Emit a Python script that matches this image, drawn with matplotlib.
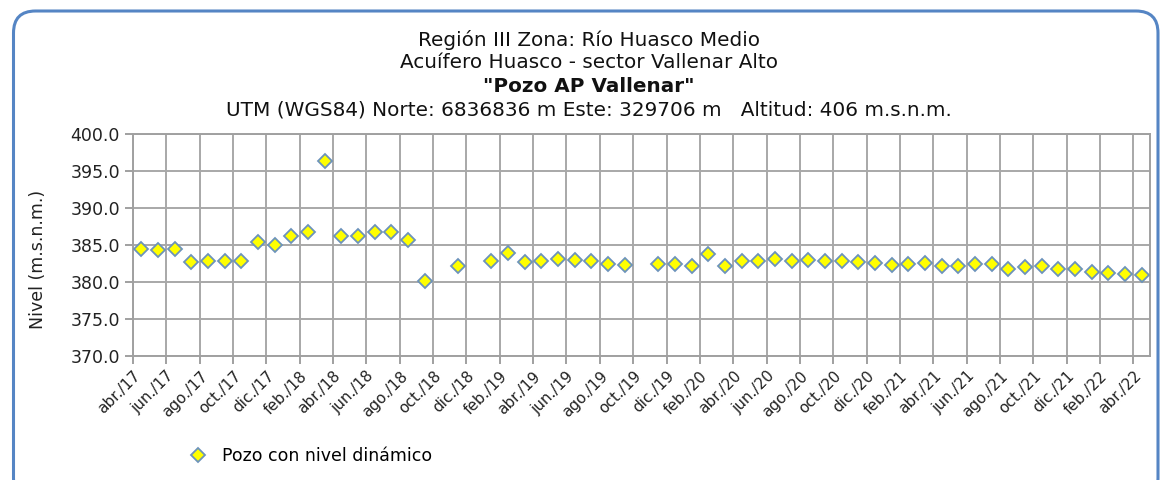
import numpy as np
import matplotlib
matplotlib.use("Agg")
import matplotlib.pyplot as plt
from matplotlib.patches import FancyBboxPatch

# meses desde abr./17 hasta abr./22 (uno por mes)
meses = ['ene.', 'feb.', 'mar.', 'abr.', 'may.', 'jun.',
         'jul.', 'ago.', 'sep.', 'oct.', 'nov.', 'dic.']
n_meses = 61

# nivel dinámico (m.s.n.m.), NaN = sin medición
nivel = [384.5, 384.3, 384.4, 382.7, 382.8, 382.8, 382.8, 385.4, 385.0, 386.2,
         386.8, 396.3, 386.2, 386.2, 386.7, 386.7, 385.7, 380.2, np.nan, 382.1,
         np.nan, 382.9, 383.9, 382.7, 382.8, 383.1, 383.0, 382.8, 382.5, 382.3,
         np.nan, 382.5, 382.5, 382.2, 383.8, 382.1, 382.9, 382.9, 383.1, 382.9,
         383.0, 382.8, 382.8, 382.7, 382.6, 382.3, 382.4, 382.6, 382.2, 382.2,
         382.5, 382.4, 381.8, 382.0, 382.1, 381.8, 381.7, 381.4, 381.2, 381.1,
         380.9]

titulos = ['Región III Zona: Río Huasco Medio',
           'Acuífero Huasco - sector Vallenar Alto',
           '"Pozo AP Vallenar"',
           'UTM (WGS84) Norte: 6836836 m Este: 329706 m   Altitud: 406 m.s.n.m.']

etiquetas = []
for i in range(n_meses):
    m = (3 + i) % 12
    a = 17 + (3 + i) // 12
    etiquetas.append(meses[m] + '/' + str(a))

plt.rcParams['font.family'] = ['DejaVu Sans']

fig = plt.figure(figsize=(11.61, 4.8), dpi=100)

# marco redondeado azul
marco = FancyBboxPatch((0.135, -0.2), 11.445, 4.89,
                       boxstyle="round,pad=0,rounding_size=0.22",
                       transform=fig.dpi_scale_trans, fill=False,
                       edgecolor='#5585c4', linewidth=2.2, zorder=0)
fig.patches.append(marco)

ax = fig.add_axes([0.1146, 0.2583, 0.8759, 0.4625])

x = np.arange(n_meses) + 0.5
ax.plot(x, nivel, linestyle='none', marker='D', markersize=7.6,
        markerfacecolor='#ffff00', markeredgecolor='#6c93bb',
        markeredgewidth=1.3, label='Pozo con nivel dinámico', zorder=3)

ax.set_xlim(0, n_meses)
ax.set_ylim(370, 400)
ax.set_yticks(np.arange(370, 401, 5))
ax.set_yticklabels(['%.1f' % v for v in np.arange(370, 401, 5)])
ticks = np.arange(0, n_meses, 2)
ax.set_xticks(ticks)
ax.set_xticklabels([etiquetas[i] for i in ticks], rotation=45,
                   ha='right', rotation_mode='anchor')

ax.grid(True, color='#a8a8a8', linewidth=1.4)
ax.set_axisbelow(True)
for s in ax.spines.values():
    s.set_color('#a0a0a0')
    s.set_linewidth(1.4)
ax.tick_params(axis='both', colors='#a0a0a0', labelcolor='#222222',
               length=6, width=1.4)
ax.tick_params(axis='y', labelsize=12.5)
ax.tick_params(axis='x', labelsize=11, pad=3)

fig.text(38 / 1161, 1 - 259 / 480, 'Nivel (m.s.n.m.)', rotation=90,
         ha='center', va='center', fontsize=12.5, color='#222222')

ys = [40, 63, 87, 110]
for t, yy in zip(titulos, ys):
    fig.text(589 / 1161, 1 - yy / 480, t, ha='center', va='center',
             fontsize=14.4, color='#111111',
             fontweight='bold' if t.startswith('"') else 'normal')

fig.legend(loc='center left', bbox_to_anchor=(165 / 1161, 1 - 456 / 480),
           frameon=False, fontsize=12.5, handletextpad=0.4, numpoints=1)

fig.savefig('out.png', dpi=100)
